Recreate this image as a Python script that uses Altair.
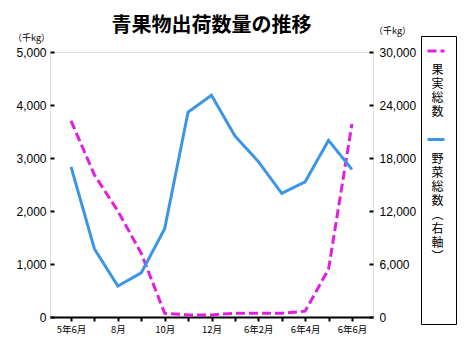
import altair as alt
import pandas as pd

months = ['5年6月', '7月', '8月', '9月', '10月', '11月', '12月',
          '6年1月', '6年2月', '6年3月', '6年4月', '6年5月', '6年6月']
fruit = [3700, 2680, 2000, 1200, 70, 40, 40, 70, 70, 70, 110, 900, 3640]
veg = [17000, 7700, 3500, 5000, 10000, 23200, 25100, 20500, 17600, 14000, 15300, 20000, 16700]
series = ['果実総数', '野菜総数（右軸）']
colors = ['#e11fe1', '#3d95e5']
left_ticks = [0, 1000, 2000, 3000, 4000, 5000]
right_ticks = [0, 6000, 12000, 18000, 24000, 30000]
shown_months = months[::2]
unit = '（千kg）'
title = '青果物出荷数量の推移'

df = pd.DataFrame({
    'month': months * 2,
    'value': fruit + veg,
    'series': [series[0]] * len(months) + [series[1]] * len(months),
})

FONT_NUM = 'Liberation Sans, Noto Sans CJK JP'
FONT_JP = 'Noto Sans CJK JP'

shown_js = '[' + ','.join("'" + m + "'" for m in shown_months) + ']'
x = alt.X('month:N', sort=months,
          scale=alt.Scale(type='point', padding=0.9),
          axis=alt.Axis(title=None, labelAngle=0,
                        labelExpr=f"indexof({shown_js}, datum.label) >= 0 ? datum.label : ''",
                        tickSize=4, tickWidth=2, tickColor='black',
                        domainWidth=2, domainColor='black',
                        labelFont=FONT_JP, labelFontSize=9.5, labelColor='black',
                        labelPadding=3))

trail = '\u3000' * 4
legend = alt.Legend(
    title=None, orient='none', legendX=371, legendY=-16,
    strokeColor='black', fillColor='white', padding=5,
    symbolType='stroke', symbolSize=289, symbolStrokeWidth=3,
    labelFont=FONT_JP, labelFontSize=12, labelColor='black',
    labelAlign='center', labelBaseline='top', labelOffset={'expr': '-8.5'},
    rowPadding=11.5,
    labelExpr=("split('\u3000' + replace(replace(datum.label, '（', '︵'), '）', '︶')"
               f" + (datum.label == '{series[1]}' ? '{trail}' : ''), '')"),
)

color = alt.Color('series:N', scale=alt.Scale(domain=series, range=colors), legend=legend)
dash = alt.StrokeDash('series:N', scale=alt.Scale(domain=series, range=[[9, 4], [1, 0]]), legend=legend)

base = alt.Chart(df)

fruit_line = base.transform_filter(alt.datum.series == series[0]).mark_line(strokeWidth=3).encode(
    x=x,
    y=alt.Y('value:Q', scale=alt.Scale(domain=[0, 5000], nice=False),
            axis=alt.Axis(orient='left', values=left_ticks, format=',.0f', grid=False,
                          domain=False, offset=-4, tickSize=4, tickWidth=2, tickColor='black',
                          labelFont=FONT_NUM, labelFontSize=12, labelColor='black', labelPadding=4,
                          title=unit, titleAngle=0, titleX=-23, titleY=-15,
                          titleAlign='center', titleBaseline='middle',
                          titleFont=FONT_JP, titleFontSize=9, titleFontWeight='normal', titleColor='black')),
    color=color, strokeDash=dash,
)

veg_line = base.transform_filter(alt.datum.series == series[1]).mark_line(strokeWidth=3).encode(
    x=x,
    y=alt.Y('value:Q', scale=alt.Scale(domain=[0, 30000], nice=False),
            axis=alt.Axis(orient='right', values=right_ticks, format=',.0f', grid=False,
                          domain=False, offset=-4, tickSize=4, tickWidth=2, tickColor='black',
                          labelFont=FONT_NUM, labelFontSize=12, labelColor='black', labelPadding=6,
                          title=unit, titleAngle=0, titleX=23, titleY=-22,
                          titleAlign='center', titleBaseline='middle',
                          titleFont=FONT_JP, titleFontSize=9, titleFontWeight='normal', titleColor='black')),
    color=color, strokeDash=dash,
)

chart = alt.layer(fruit_line, veg_line).resolve_scale(y='independent').properties(
    width=323, height=265,
    title=alt.Title(title, font=FONT_JP, fontSize=20, fontWeight='bold', color='black',
                    anchor='middle', offset=4, dy=14),
    autosize=alt.AutoSizeParams(type='none'),
    padding={'left': 50, 'top': 52, 'right': 91, 'bottom': 40},
).configure_view(stroke='black', strokeWidth=2).configure(background='white')

chart.save('out.html', embed_options={'renderer': 'svg', 'actions': False})
